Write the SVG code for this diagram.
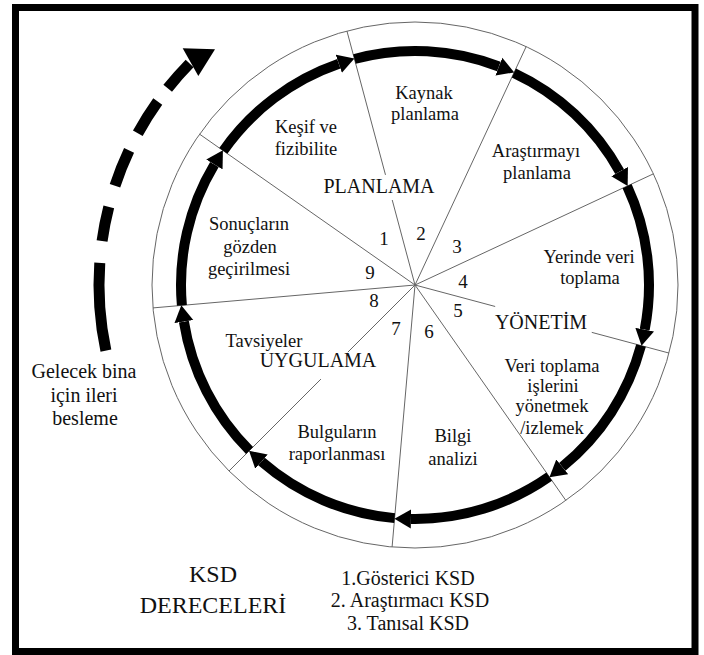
<svg xmlns="http://www.w3.org/2000/svg" width="704" height="655" viewBox="0 0 704 655">
<style>
  text { fill: #111; text-anchor: middle; }
  .lbl { font-size: 18.5px; }
  .cap { font-size: 20px; }
  .num { font-size: 19px; }
  .big { font-size: 24px; }
  .thin { stroke: #666; stroke-width: 1; fill: none; }
  .arc { stroke: #000; stroke-width: 10; fill: none; stroke-linecap: butt; marker-end: url(#head); }
  .dash { stroke: #000; stroke-width: 11; fill: none; stroke-linecap: butt; }
</style>
<defs>
  <marker id="head" markerUnits="userSpaceOnUse" orient="auto" viewBox="0 -10 17 20" refX="0" refY="0" markerWidth="17" markerHeight="20">
    <path d="M0,-9.5 L16.5,0 L0,9.5 Z" fill="#000"/>
  </marker>
</defs>
<rect x="0" y="0" width="704" height="655" fill="#fff"/>
<rect id="frame" x="15.5" y="7.5" width="679.5" height="644" fill="none" stroke="#000" stroke-width="7"/>

<g id="wheel">
  <circle class="thin" cx="415" cy="285" r="263"/>
  <line class="thin" x1="415" y1="285" x2="495.17" y2="306.48"/>
  <line class="thin" x1="591.76" y1="332.36" x2="669.04" y2="353.07"/>
  <line class="thin" x1="415" y1="285" x2="565.85" y2="500.44"/>
  <line class="thin" x1="415" y1="285" x2="392.08" y2="547.0"/>
  <line class="thin" x1="415" y1="285" x2="347.82" y2="352.18"/>
  <line class="thin" x1="320.95" y1="379.05" x2="229.03" y2="470.97"/>
  <line class="thin" x1="415" y1="285" x2="153.0" y2="307.92"/>
  <line class="thin" x1="415" y1="285" x2="199.56" y2="134.15"/>
  <line class="thin" x1="415" y1="285" x2="392.22" y2="200.0"/>
  <line class="thin" x1="385.49" y1="174.88" x2="346.93" y2="30.96"/>
  <line class="thin" x1="415" y1="285" x2="526.15" y2="46.64"/>
  <line class="thin" x1="415" y1="285" x2="653.36" y2="173.85"/>
</g>

<g id="connectors">
  <path class="arc" d="M223.32,150.78 A234,234 0 0 1 338.82,63.75"/>
  <path class="arc" d="M354.44,58.97 A234,234 0 0 1 498.86,66.54"/>
  <path class="arc" d="M513.89,72.92 A234,234 0 0 1 619.66,171.55"/>
  <path class="arc" d="M627.08,186.11 A234,234 0 0 1 644.70,329.65"/>
  <path class="arc" d="M641.03,345.56 A234,234 0 0 1 562.26,466.85"/>
  <path class="arc" d="M549.22,476.68 A234,234 0 0 1 410.92,518.96"/>
  <path class="arc" d="M394.61,518.11 A234,234 0 0 1 261.48,461.60"/>
  <path class="arc" d="M249.54,450.46 A234,234 0 0 1 183.88,321.60"/>
  <path class="arc" d="M181.89,305.39 A234,234 0 0 1 214.42,164.48"/>
  <g id="feedforward">
    <path class="dash" d="M105.90,350.70 A316,316 0 0 1 99.77,262.96"/>
    <path class="dash" d="M102.07,241.02 A316,316 0 0 1 108.79,206.95"/>
    <path class="dash" d="M114.98,185.78 A316,316 0 0 1 129.07,150.45"/>
    <path class="dash" d="M137.82,133.25 A316,316 0 0 1 157.74,101.50"/>
    <path class="dash" d="M167.70,88.29 A316,316 0 0 1 189.61,63.51"/>
    <polygon points="182.7,48.3 215,49.3 198.3,76" fill="#000"/>
  </g>
</g>

<g font-family="'Liberation Serif', 'Times New Roman', 'DejaVu Serif', serif">
<g id="seg1"><text class="lbl" x="306" y="133">Keşif ve</text><text class="lbl" x="306" y="155">fizibilite</text><text class="num" x="384" y="245">1</text></g>
<g id="seg2"><text class="lbl" x="424" y="99">Kaynak</text><text class="lbl" x="425" y="120">planlama</text><text class="num" x="421" y="240">2</text></g>
<g id="seg3"><text class="lbl" x="536" y="157">Araştırmayı</text><text class="lbl" x="537" y="179">planlama</text><text class="num" x="457" y="253">3</text></g>
<g id="seg4"><text class="lbl" x="589" y="263">Yerinde veri</text><text class="lbl" x="590" y="284">toplama</text><text class="num" x="463" y="288">4</text></g>
<g id="seg5"><text class="lbl" x="552" y="372">Veri toplama</text><text class="lbl" x="553" y="392">işlerini</text><text class="lbl" x="552" y="412">yönetmek</text><text class="lbl" x="552" y="434">/izlemek</text><text class="num" x="458" y="317">5</text></g>
<g id="seg6"><text class="lbl" x="453" y="442">Bilgi</text><text class="lbl" x="453" y="465">analizi</text><text class="num" x="429" y="338">6</text></g>
<g id="seg7"><text class="lbl" x="337" y="438">Bulguların</text><text class="lbl" x="337" y="460">raporlanması</text><text class="num" x="396" y="335">7</text></g>
<g id="seg8"><text class="lbl" x="264" y="347">Tavsiyeler</text><text class="num" x="374" y="307">8</text></g>
<g id="seg9"><text class="lbl" x="249" y="230">Sonuçların</text><text class="lbl" x="250" y="253">gözden</text><text class="lbl" x="249" y="275">geçirilmesi</text><text class="num" x="370" y="279">9</text></g>

<g id="phase-planlama"><text class="cap" x="379" y="193">PLANLAMA</text></g>
<g id="phase-yonetim"><text class="cap" x="541" y="329">YÖNETİM</text></g>
<g id="phase-uygulama"><text class="cap" x="318" y="367">UYGULAMA</text></g>

<g id="feedforward-label"><text class="cap" x="84" y="378">Gelecek bina</text><text class="cap" x="84" y="402">için ileri</text><text class="cap" x="85" y="425">besleme</text></g>
<g id="ksd-title"><text class="big" x="213" y="582">KSD</text><text class="big" x="213" y="613">DERECELERİ</text></g>
<g id="ksd-list"><text class="cap" x="408" y="585">1.Gösterici KSD</text><text class="cap" x="410" y="607">2. Araştırmacı KSD</text><text class="cap" x="408" y="630">3. Tanısal KSD</text></g>
</g>
</svg>
